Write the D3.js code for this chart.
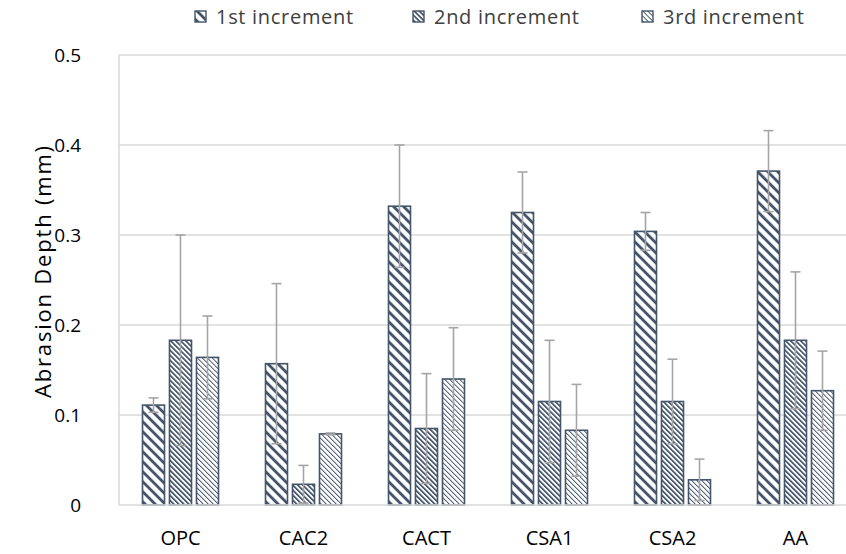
<!DOCTYPE html>
<html>
<head>
<meta charset="utf-8">
<script src="https://cdn.jsdelivr.net/npm/d3@7"></script>
<style>
  html, body { margin: 0; padding: 0; background: #fff; }
  svg { display: block; font-family: "Open Sans", "Liberation Sans", sans-serif; }
</style>
</head>
<body>
<svg id="chart" width="846" height="554"></svg>
<script>
// ---- data ----
const categories = ["OPC", "CAC2", "CACT", "CSA1", "CSA2", "AA"];
const seriesNames = ["1st increment", "2nd increment", "3rd increment"];
const inc1 = [0.111, 0.157, 0.332, 0.325, 0.304, 0.371];
const inc2 = [0.183, 0.023, 0.085, 0.115, 0.115, 0.183];
const inc3 = [0.164, 0.079, 0.140, 0.083, 0.028, 0.127];
const err1 = [0.008, 0.089, 0.068, 0.045, 0.021, 0.045];
const err2 = [0.117, 0.021, 0.061, 0.068, 0.047, 0.076];
const err3 = [0.046, 0.001, 0.057, 0.051, 0.023, 0.044];
const yTicks = [0, 0.1, 0.2, 0.3, 0.4, 0.5];
const yTitle = "Abrasion Depth (mm)";

const values = [inc1, inc2, inc3];
const errors = [err1, err2, err3];

const svg = d3.select("#chart");
const navy = "#44546A";
const grid = "#D9D9D9";
const errColor = "#A5A5A5";

// patterns
const defs = svg.append("defs");
const patSpecs = [
  { id: "p1", period: 7.07, thick: 2.8 },
  { id: "p2", period: 3.54, thick: 1.7 },
  { id: "p3", period: 3.54, thick: 0.95 }
];
patSpecs.forEach(p => {
  const pat = defs.append("pattern")
    .attr("id", p.id)
    .attr("patternUnits", "userSpaceOnUse")
    .attr("width", p.period)
    .attr("height", p.period)
    .attr("patternTransform", "rotate(-45)");
  pat.append("rect").attr("width", p.period).attr("height", p.period).attr("fill", "#fff");
  pat.append("rect").attr("width", p.thick).attr("height", p.period).attr("fill", navy);
});

// scales
const plotLeft = 119, plotRight = 857, plotTop = 55, plotBottom = 505;
const x0 = d3.scaleBand().domain(categories).range([plotLeft, plotRight]).padding(0);
const x1 = d3.scaleBand().domain(d3.range(3)).range([23.5, x0.bandwidth() - 23.5]).paddingInner(0.185).paddingOuter(0);
const y = d3.scaleLinear().domain([0, 0.5]).range([plotBottom, plotTop]);

// gridlines
svg.append("g").selectAll("line").data(yTicks.filter(d => d > 0)).join("line")
  .attr("x1", plotLeft).attr("x2", plotRight)
  .attr("y1", d => y(d)).attr("y2", d => y(d))
  .attr("stroke", grid).attr("stroke-width", 1.5);

// left axis line
svg.append("line").attr("x1", plotLeft).attr("x2", plotLeft)
  .attr("y1", plotTop).attr("y2", plotBottom)
  .attr("stroke", grid).attr("stroke-width", 1.5);

// y axis
const yAxis = svg.append("g").attr("transform", `translate(${plotLeft},0)`)
  .call(d3.axisLeft(y).tickValues(yTicks).tickSize(0).tickPadding(38).tickFormat(d => d === 0 ? "0" : d3.format(".1f")(d)));
yAxis.select(".domain").remove();
yAxis.selectAll("text").attr("font-size", 19).attr("fill", "#000").attr("font-family", "'Open Sans', sans-serif");

// bars
const groups = svg.append("g").selectAll("g").data(categories).join("g")
  .attr("transform", d => `translate(${x0(d)},0)`);

groups.each(function(cat, ci) {
  const g = d3.select(this);
  values.forEach((vals, si) => {
    const v = vals[ci];
    g.append("rect")
      .attr("x", x1(si)).attr("width", x1.bandwidth())
      .attr("y", y(v)).attr("height", y(0) - y(v))
      .attr("fill", `url(#p${si + 1})`)
      .attr("stroke", navy).attr("stroke-width", 1.6);
  });
});

// baseline
svg.append("line").attr("x1", plotLeft).attr("x2", plotRight)
  .attr("y1", y(0)).attr("y2", y(0))
  .attr("stroke", grid).attr("stroke-width", 1.5);

// error bars
groups.each(function(cat, ci) {
  const g = d3.select(this);
  values.forEach((vals, si) => {
    const v = vals[ci], e = errors[si][ci];
    const cx = x1(si) + x1.bandwidth() / 2;
    const eb = g.append("g").attr("stroke", errColor).attr("stroke-width", 1.6);
    eb.append("line").attr("x1", cx).attr("x2", cx).attr("y1", y(v + e)).attr("y2", y(v - e));
    [v + e, v - e].forEach(t => {
      eb.append("line").attr("x1", cx - 5).attr("x2", cx + 5).attr("y1", y(t)).attr("y2", y(t));
    });
  });
});

// x labels
svg.append("g").selectAll("text").data(categories).join("text")
  .attr("x", d => x0(d) + x0.bandwidth() / 2)
  .attr("y", 545)
  .attr("text-anchor", "middle")
  .attr("font-size", 20)
  .attr("fill", "#000")
  .text(d => d);

// y title
svg.append("text")
  .attr("transform", `translate(51, 271) rotate(-90)`)
  .attr("text-anchor", "middle")
  .attr("font-size", 22)
  .attr("letter-spacing", 1.8)
  .attr("fill", "#000")
  .text(yTitle);

// legend
const legendX = [195, 413, 642];
const leg = svg.append("g").selectAll("g").data(seriesNames).join("g")
  .attr("transform", (d, i) => `translate(${legendX[i]}, 11)`);
leg.append("rect").attr("width", 11).attr("height", 11)
  .attr("fill", (d, i) => `url(#p${i + 1})`)
  .attr("stroke", navy).attr("stroke-width", 1.4);
leg.append("text").attr("x", 21).attr("y", 12.5)
  .attr("font-size", 20).attr("letter-spacing", 0.7)
  .attr("fill", "#404040")
  .text(d => d);
</script>
</body>
</html>
